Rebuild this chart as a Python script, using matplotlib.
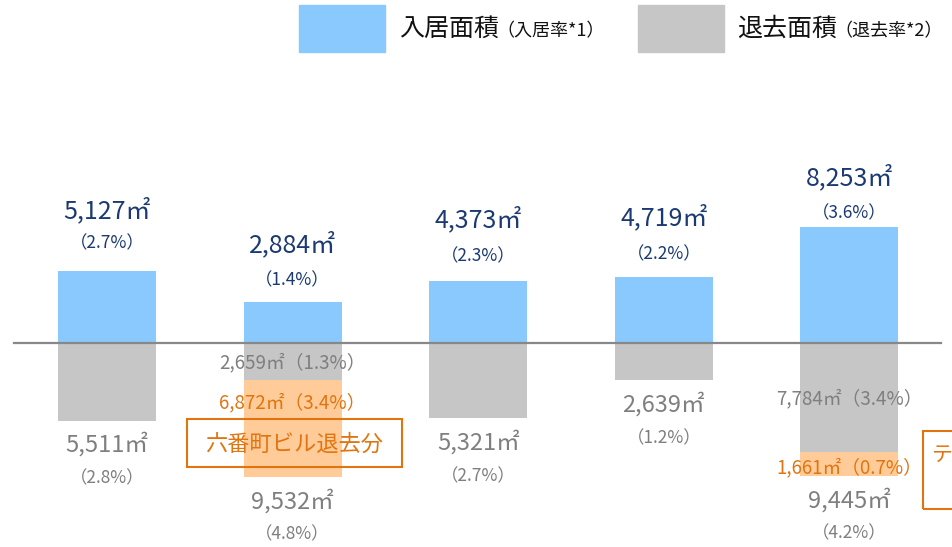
import matplotlib
matplotlib.use("Agg")
import matplotlib.pyplot as plt
from matplotlib.patches import Rectangle

plt.rcParams['font.family'] = ['Noto Sans CJK JP', 'DejaVu Sans']

# ---- data ----
groups = ["G1", "G2", "G3", "G4", "G5"]
move_in = [5127, 2884, 4373, 4719, 8253]
move_in_rate = ["2.7%", "1.4%", "2.3%", "2.2%", "3.6%"]
move_out_regular = [5511, 2659, 5321, 2639, 7784]
move_out_regular_rate = ["2.8%", "1.3%", "2.7%", "1.2%", "3.4%"]
move_out_special = [0, 6872, 0, 0, 1661]
move_out_special_rate = ["", "3.4%", "", "", "0.7%"]
move_out_total = [5511, 9532, 5321, 2639, 9445]
move_out_total_rate = ["2.8%", "4.8%", "2.7%", "1.2%", "4.2%"]
legend_labels = ["入居面積", "（入居率*1）", "退去面積", "（退去率*2）"]
special_note = "六番町ビル退去分"
right_note = "テ"

# ---- layout (label offsets in pixels above bar tops) ----
in_value_off = [60, 58, 62, 59, 49]
in_rate_off = [28, 22, 25, 22, 14]

BLUE = "#8AC9FD"
GRAY = "#C6C6C6"
ORANGE_FILL = "#FFCC99"
ORANGE = "#E2740F"
NAVY = "#1B3A73"
GTXT = "#7F7F7F"

W, H = 953, 547
fig = plt.figure(figsize=(W / 100, H / 100), dpi=100)
ax = fig.add_axes([0, 0, 1, 1])
ax.axis("off")

spacing_px = 185.6
x0_px = 107
xlim = (-x0_px / spacing_px, (W - x0_px) / spacing_px)
units_per_px = 71.1
base_px = 343
ylim = (-(H - base_px) * units_per_px, base_px * units_per_px)
ax.set_xlim(*xlim)
ax.set_ylim(*ylim)


def px2x(px):
    return xlim[0] + px / W * (xlim[1] - xlim[0])


def px2y(py):
    return ylim[1] - py / H * (ylim[1] - ylim[0])


xs = list(range(len(groups)))
bw = 98 / spacing_px
neg_reg = [-v for v in move_out_regular]
neg_spec = [-v for v in move_out_special]

ax.bar(xs, move_in, width=bw, color=BLUE, zorder=2)
ax.bar(xs, neg_reg, width=bw, color=GRAY, zorder=2)
ax.bar(xs, neg_spec, width=bw, bottom=neg_reg, color=ORANGE_FILL, zorder=2)

ax.plot([px2x(14), px2x(941)], [0, 0], color="#888888", lw=1.6, zorder=3)

PT = 0.72  # px -> points


def ann(x, y, s, dy_px, size, color):
    ax.annotate(s, xy=(x, y), xytext=(0, dy_px * PT), textcoords="offset points",
                ha="center", va="center", fontsize=size, color=color, zorder=5)


for i in xs:
    # move-in labels
    ann(i, move_in[i], f"{move_in[i]:,}㎡", in_value_off[i], 18, NAVY)
    ann(i, move_in[i], f"（{move_in_rate[i]}）", in_rate_off[i], 12.5, NAVY)
    if move_out_special[i] == 0:
        ann(i, -move_out_total[i], f"{move_out_total[i]:,}㎡", -24, 17, GTXT)
        ann(i, -move_out_total[i], f"（{move_out_total_rate[i]}）", -58, 12.5, GTXT)
    else:
        # inner labels
        ann(i, -move_out_regular[i] / 2, f"{move_out_regular[i]:,}㎡（{move_out_regular_rate[i]}）", -1, 13.5, GTXT)
        seg_top = -move_out_regular[i]
        seg_mid = seg_top - move_out_special[i] / 2
        if move_out_special[i] > 3000:
            ann(i, seg_top, f"{move_out_special[i]:,}㎡（{move_out_special_rate[i]}）", -22, 13.5, ORANGE)
        else:
            ann(i, seg_mid, f"{move_out_special[i]:,}㎡（{move_out_special_rate[i]}）", -4, 13.5, ORANGE)
        ann(i, -move_out_total[i], f"{move_out_total[i]:,}㎡", -24, 17, GTXT)
        ann(i, -move_out_total[i], f"（{move_out_total_rate[i]}）", -57, 12.5, GTXT)

# note box for 2nd group
ax.add_patch(Rectangle((px2x(187), px2y(467)), px2x(402) - px2x(187), px2y(419) - px2y(467),
                       fill=False, ec=ORANGE, lw=1.5, zorder=6))
ax.text(px2x(294.5), px2y(444), special_note, ha="center", va="center", fontsize=16,
        color=ORANGE, zorder=6)

# clipped note box at right edge
ax.add_patch(Rectangle((px2x(923), px2y(509)), px2x(1010) - px2x(923), px2y(431) - px2y(509),
                       fill=False, ec=ORANGE, lw=1.5, zorder=6, clip_on=False))
ax.text(px2x(932), px2y(455), right_note, ha="left", va="center", fontsize=15,
        color=ORANGE, zorder=6)

# legend
ax.add_patch(Rectangle((px2x(299), px2y(52)), px2x(385) - px2x(299), px2y(5) - px2y(52),
                       color=BLUE, zorder=4))
ax.text(px2x(399), px2y(29), legend_labels[0], ha="left", va="center", fontsize=18, color="#111111")
ax.text(px2x(496), px2y(31), legend_labels[1], ha="left", va="center", fontsize=13, color="#111111")
ax.add_patch(Rectangle((px2x(638), px2y(52)), px2x(724) - px2x(638), px2y(5) - px2y(52),
                       color=GRAY, zorder=4))
ax.text(px2x(737), px2y(29), legend_labels[2], ha="left", va="center", fontsize=18, color="#111111")
ax.text(px2x(834), px2y(31), legend_labels[3], ha="left", va="center", fontsize=13, color="#111111")

fig.savefig("out.png", dpi=100)
